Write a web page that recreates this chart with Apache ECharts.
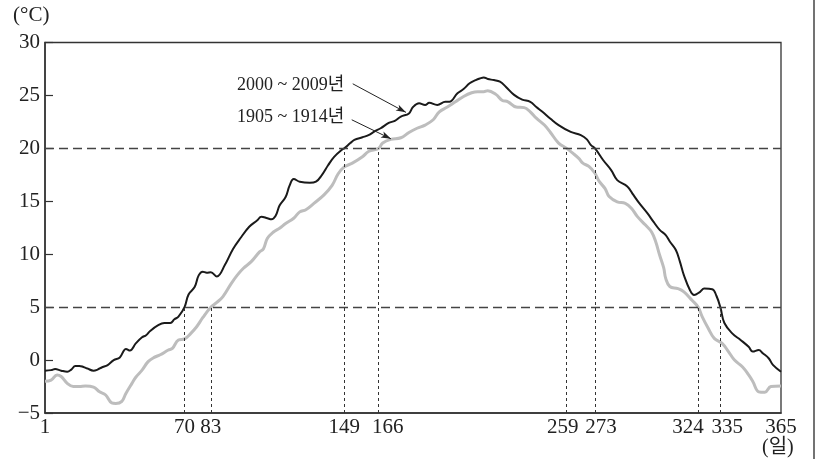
<!DOCTYPE html>
<html>
<head>
<meta charset="utf-8">
<script src="https://cdn.jsdelivr.net/npm/echarts@6/dist/echarts.min.js"></script>
<style>
html,body{margin:0;padding:0;background:#fff;}
#chart{width:820px;height:459px;}
</style>
</head>
<body>
<div id="chart"></div>
<script>
// ---- data ----
const daysRecent = [1,4,6,9,12,14,16,18,20,22,25,27,29,32,35,38,40,41,43,46,49,51,53,57,60,63,65,67,70,72,75,77,79,81,83,86,90,94,98,102,106,108,111,113,115,117,120,122,124,127,132,135,138,141,144,148,149,152,154,158,161,164,167,171,174,177,181,183,186,189,191,195,199,201,205,208,211,214,216,218,220,223,226,229,233,237,241,244,247,251,255,261,266,269,271,273,277,281,284,289,292,295,299,302,305,308,310,313,315,317,320,322,325,327,331,333,335,337,341,345,349,351,354,356,359,361,365];
const tempRecent = [-1.0,-0.95,-0.85,-1.0,-1.1,-0.9,-0.55,-0.55,-0.65,-0.8,-1.0,-0.9,-0.7,-0.47,0.0,0.25,0.9,1.05,0.9,1.6,2.15,2.35,2.75,3.3,3.5,3.5,3.85,4.1,5.0,6.2,6.9,8.0,8.35,8.25,8.3,7.9,9.0,10.5,11.6,12.6,13.2,13.55,13.4,13.3,13.6,14.6,15.4,16.5,17.1,16.85,16.75,16.85,17.5,18.4,19.2,19.9,20.0,20.5,20.8,21.05,21.25,21.6,21.9,22.4,22.6,23.0,23.3,23.9,24.25,24.1,24.3,24.1,24.4,24.4,25.2,25.6,26.15,26.45,26.6,26.7,26.55,26.45,26.3,25.8,25.05,24.6,24.4,23.9,23.45,22.8,22.2,21.55,21.25,20.85,20.3,20.0,18.9,17.95,17.0,16.4,15.6,14.8,13.85,13.05,12.3,11.8,11.2,10.4,9.3,8.0,6.6,6.15,6.45,6.75,6.7,6.1,5.0,3.5,2.5,1.9,1.25,0.8,0.95,0.65,0.15,-0.45,-1.1];

const daysPast = [1,4,7,9,12,15,18,21,25,28,31,34,36,39,41,44,46,49,52,55,58,62,64,67,70,73,76,79,83,86,89,93,96,99,103,107,109,111,114,117,120,124,127,130,134,139,143,146,149,153,158,161,166,168,172,177,181,185,189,193,196,200,204,208,212,215,218,220,224,227,230,234,238,241,244,248,251,255,259,262,265,267,270,273,275,278,280,284,288,291,294,298,301,303,305,307,308,310,314,317,321,324,326,329,332,336,339,342,346,349,351,354,357,360,365];
const tempPast = [-2.0,-1.9,-1.4,-1.55,-2.2,-2.5,-2.5,-2.45,-2.55,-3.0,-3.3,-4.05,-4.1,-3.9,-3.15,-2.2,-1.6,-0.95,-0.15,0.25,0.5,0.95,1.1,1.9,2.0,2.5,3.15,4.0,5.0,5.45,6.0,7.2,8.0,8.65,9.3,10.2,10.5,11.5,12.1,12.45,12.9,13.4,14.0,14.2,14.8,15.6,16.5,17.6,18.25,18.6,19.2,19.7,20.0,20.5,20.85,21.0,21.5,21.9,22.2,22.7,23.45,23.9,24.4,24.9,25.25,25.35,25.35,25.45,25.1,24.55,24.4,23.9,23.85,23.45,22.85,22.2,21.5,20.5,20.0,19.55,19.05,18.6,18.3,17.65,16.9,16.2,15.45,14.95,14.8,14.35,13.55,12.75,12.1,11.2,9.9,8.7,7.7,6.95,6.75,6.45,5.65,5.0,4.1,3.0,2.05,1.55,0.8,0.0,-0.65,-1.4,-2.0,-3.0,-3.05,-2.5,-2.45];

const xTickLabels = [1,70,83,149,166,259,273,324,335,365];
const thresholds = [20, 5];
const crossDays = [70,83,149,166,259,273,324,335];
const crossTemps = [5,5,20,20,20,20,5,5];
const seriesNames = ['2000 ~ 2009년', '1905 ~ 1914년'];
// arrow start/end in data coordinates [day, temp]
const arrowRecent = [[153.2,26.1],[179.5,23.4]];
const arrowPast = [[152.7,22.7],[172.1,20.9]];

// label pixel nudges (layout only), positive = right
const labelShift = {166:9, 259:-4, 273:6, 324:-10, 335:7};

const FONT = '"Liberation Serif","DejaVu Serif","Noto Sans CJK KR",serif';

function zip(a,b){return a.map((v,i)=>[v,b[i]]);}

const rich = {};
Object.keys(labelShift).forEach(k=>{
  const s = labelShift[k];
  rich['s'+k] = {fontSize:21,fontFamily:FONT,color:'#222',
    padding: s>0 ? [0,0,0,2*s] : [0,-2*s,0,0]};
});

const chart = echarts.init(document.getElementById('chart'), null, {renderer:'canvas'});
chart.setOption({
  animation:false,
  backgroundColor:'#fff',
  grid:{left:45,right:39,top:42.5,bottom:46,show:true,borderColor:'#333',borderWidth:1.3,backgroundColor:'transparent'},
  xAxis:{
    type:'value',min:1,max:365,
    axisLine:{onZero:false,lineStyle:{color:'#333',width:1.5}},
    axisTick:{show:false},
    splitLine:{show:false},
    axisLabel:{customValues:xTickLabels,color:'#222',fontSize:21,fontFamily:FONT,margin:4,
      formatter:v=>labelShift[v]!==undefined ? '{s'+v+'|'+v+'}' : String(v),
      rich:rich}
  },
  yAxis:{
    type:'value',min:-5,max:30,interval:5,
    axisLine:{show:true,onZero:false,lineStyle:{color:'#333',width:1.5}},
    axisTick:{show:true,inside:true,length:8,lineStyle:{color:'#333',width:1.2}},
    splitLine:{show:false},
    axisLabel:{color:'#222',fontSize:21,fontFamily:FONT,margin:5,
      formatter:v=>String(v).replace('-','\u2212')}
  },
  series:[
    {
      name:'guides',type:'line',data:[],silent:true,
      markLine:{
        silent:true,symbol:['none','none'],label:{show:false},
        lineStyle:{color:'#444',type:[9,5],width:1.3},
        data:thresholds.map(t=>({yAxis:t}))
      }
    },
    {
      name:'cross',type:'line',data:[],silent:true,
      markLine:{
        silent:true,symbol:['none','none'],label:{show:false},
        lineStyle:{color:'#333',type:[3,3],width:1},
        data:crossDays.map((d,i)=>[{coord:[d,-5]},{coord:[d,crossTemps[i]]}])
      }
    },
    {
      name:seriesNames[1],type:'line',data:zip(daysPast,tempPast),
      smooth:0.4,showSymbol:false,silent:true,
      lineStyle:{color:'#bdbdbd',width:3}
    },
    {
      name:seriesNames[0],type:'line',data:zip(daysRecent,tempRecent),
      smooth:0.4,showSymbol:false,silent:true,
      lineStyle:{color:'#1a1a1a',width:2}
    },
    {
      name:'arrows',type:'line',data:[],silent:true,
      markLine:{
        silent:true,symbol:['none','arrow'],symbolSize:[5,10],label:{show:false},
        lineStyle:{color:'#222',type:'solid',width:1},
        data:[
          [{coord:arrowRecent[0]},{coord:arrowRecent[1]}],
          [{coord:arrowPast[0]},{coord:arrowPast[1]}]
        ]
      }
    }
  ],
  graphic:[
    {type:'text',left:237,top:76,silent:true,style:{text:seriesNames[0],font:'18px '+FONT,fill:'#222'}},
    {type:'text',left:237,top:108,silent:true,style:{text:seriesNames[1],font:'18px '+FONT,fill:'#222'}},
    {type:'text',left:13,top:5,silent:true,style:{text:'(°C)',font:'21px '+FONT,fill:'#222'}},
    {type:'text',left:762,top:438,silent:true,style:{text:'(일)',font:'20px '+FONT,fill:'#222'}},
    {type:'line',silent:true,shape:{x1:814,y1:0,x2:814,y2:459},style:{stroke:'#444',lineWidth:1.5}}
  ]
});
</script>
</body>
</html>
